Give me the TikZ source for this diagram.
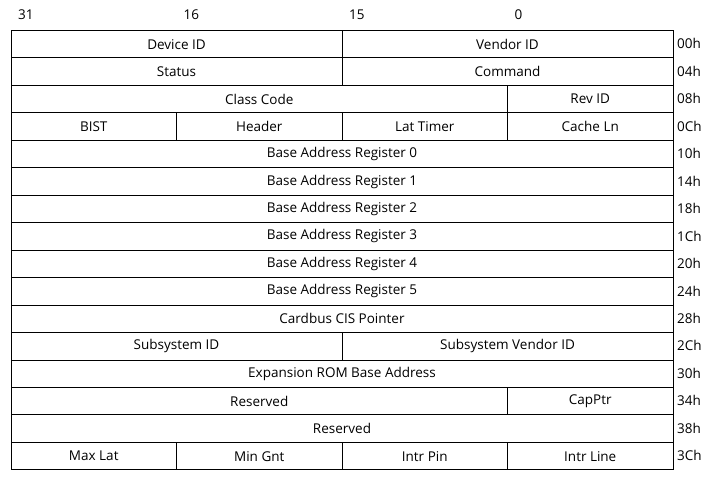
\documentclass[tikz,border=0pt]{standalone}
\usepackage{fontspec}
\setmainfont{Open Sans}
\usetikzlibrary{positioning}

\begin{document}
\begin{tikzpicture}[x=1pt, y=-1pt,
    field/.style={draw, line width=1pt, anchor=north west, inner sep=0pt,
                  minimum height=27.46pt, font=\fontsize{13.5}{15}\selectfont},
    full/.style={field, minimum width=662pt},
    half/.style={field, minimum width=331pt},
    quart/.style={field, minimum width=165.5pt},
    tquart/.style={field, minimum width=496.5pt},
    offs/.style={anchor=west, inner sep=2pt, font=\fontsize{13.5}{15}\selectfont},
    bit/.style={anchor=west, inner sep=2pt, font=\fontsize{13.5}{15}\selectfont}]
    \useasboundingbox (0,0) rectangle (720,485);
    % bit numbers
    \node[bit] (b31) at (16,15) {31};
    \node[bit] (b16) at (181.5,15) {16};
    \node[bit] (b15) at (347,15) {15};
    \node[bit] (b0) at (512.5,15) {0};
    % 00h
    \node[half] (devid) at (10.5,30) {Device ID};
    \node[half] (venid) at (341.5,30) {Vendor ID};
    \node[offs] (o00) at (675,43.73) {00h};
    % 04h
    \node[half] (status) at (10.5,57.46) {Status};
    \node[half] (cmd) at (341.5,57.46) {Command};
    \node[offs] (o04) at (675,71.19) {04h};
    % 08h
    \node[tquart] (class) at (10.5,84.92) {Class Code};
    \node[quart] (rev) at (507,84.92) {Rev ID};
    \node[offs] (o08) at (675,98.65) {08h};
    % 0Ch
    \node[quart] (bist) at (10.5,112.38) {BIST};
    \node[quart] (hdr) at (176,112.38) {Header};
    \node[quart] (lat) at (341.5,112.38) {Lat Timer};
    \node[quart] (cache) at (507,112.38) {Cache Ln};
    \node[offs] (o0C) at (675,126.11) {0Ch};
    % base address registers
    \node[full] (bar0) at (10.5,139.84) {Base Address Register 0};
    \node[offs] (o10) at (675,153.57) {10h};
    \node[full] (bar1) at (10.5,167.30) {Base Address Register 1};
    \node[offs] (o14) at (675,181.03) {14h};
    \node[full] (bar2) at (10.5,194.76) {Base Address Register 2};
    \node[offs] (o18) at (675,208.49) {18h};
    \node[full] (bar3) at (10.5,222.22) {Base Address Register 3};
    \node[offs] (o1C) at (675,235.95) {1Ch};
    \node[full] (bar4) at (10.5,249.68) {Base Address Register 4};
    \node[offs] (o20) at (675,263.41) {20h};
    \node[full] (bar5) at (10.5,277.14) {Base Address Register 5};
    \node[offs] (o24) at (675,290.87) {24h};
    % 28h
    \node[full] (cis) at (10.5,304.60) {Cardbus CIS Pointer};
    \node[offs] (o28) at (675,318.33) {28h};
    % 2Ch
    \node[half] (subid) at (10.5,332.06) {Subsystem ID};
    \node[half] (subven) at (341.5,332.06) {Subsystem Vendor ID};
    \node[offs] (o2C) at (675,345.79) {2Ch};
    % 30h
    \node[full] (rom) at (10.5,359.52) {Expansion ROM Base Address};
    \node[offs] (o30) at (675,373.25) {30h};
    % 34h
    \node[tquart] (res1) at (10.5,386.98) {Reserved};
    \node[quart] (cap) at (507,386.98) {CapPtr};
    \node[offs] (o34) at (675,400.71) {34h};
    % 38h
    \node[full] (res2) at (10.5,414.44) {Reserved};
    \node[offs] (o38) at (675,428.17) {38h};
    % 3Ch
    \node[quart] (maxlat) at (10.5,441.90) {Max Lat};
    \node[quart] (mingnt) at (176,441.90) {Min Gnt};
    \node[quart] (ipin) at (341.5,441.90) {Intr Pin};
    \node[quart] (iline) at (507,441.90) {Intr Line};
    \node[offs] (o3C) at (675,455.63) {3Ch};
\end{tikzpicture}
\end{document}
